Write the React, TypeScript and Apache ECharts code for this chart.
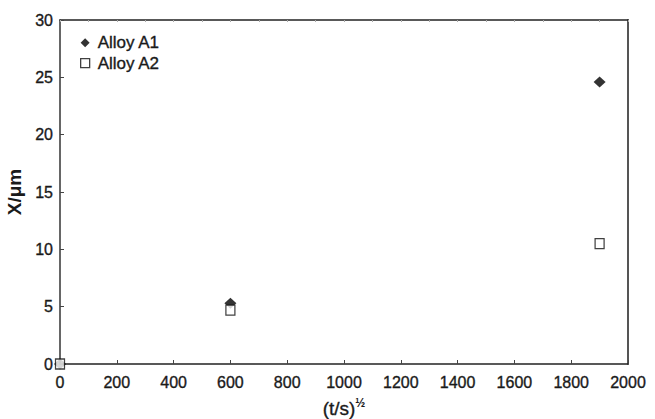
import React, { useEffect, useRef } from "react";
import * as echarts from "echarts";

const alloyA1: [number, number][] = [
  [0, 0],
  [600, 5.3],
  [1900, 24.6],
];
const alloyA2: [number, number][] = [
  [0, 0],
  [600, 4.7],
  [1900, 10.5],
];
const xTicks = { min: 0, max: 2000, interval: 200 };
const yTicks = { min: 0, max: 30, interval: 5 };

const FONT = "Liberation Sans, Arial, sans-serif";
const INK = "#1a1a1a";
const heavy = { textBorderColor: INK, textBorderWidth: 0.35 };

export default function App() {
  const ref = useRef<HTMLDivElement>(null);
  useEffect(() => {
    document.body.style.margin = "0";
    if (!ref.current) return;
    const chart = echarts.init(ref.current, null, { renderer: "svg" });
    chart.setOption({
      animation: false,
      backgroundColor: "#fff",
      grid: { left: 60, right: 27, top: 20, bottom: 55, containLabel: false, outerBoundsMode: "none" },
      legend: {
        left: 80,
        top: 34,
        padding: 0,
        orient: "vertical",
        itemGap: 3,
        itemWidth: 9,
        itemHeight: 9,
        textStyle: { fontFamily: FONT, fontSize: 17, color: INK, padding: [0, 0, 0, 3], ...heavy },
        data: [
          { name: "Alloy A1", icon: "diamond", itemStyle: { color: "#000" } },
          { name: "Alloy A2", icon: "rect", itemStyle: { color: "#fff", borderColor: "#111", borderWidth: 1.3 } },
        ],
      },
      xAxis: [
        {
          type: "value",
          min: xTicks.min,
          max: xTicks.max,
          interval: xTicks.interval,
          position: "bottom",
          name: "{b|(t/s)}{s|½}",
          nameLocation: "middle",
          nameGap: 33,
          nameTextStyle: {
            fontFamily: FONT,
            fontSize: 19,
            color: INK,
            rich: {
              b: { fontSize: 19, fontFamily: FONT, color: INK, ...heavy },
              s: { fontSize: 12, verticalAlign: "top", padding: [0, 0, 10, 0], fontFamily: FONT, fontWeight: "bold", color: INK },
            },
          },
          axisLine: { show: true, onZero: false, lineStyle: { color: "#222", width: 1.5 } },
          axisTick: { show: true, inside: true, length: 4, lineStyle: { color: "#444" } },
          axisLabel: {
            fontFamily: FONT,
            fontSize: 16,
            color: INK,
            ...heavy,
            margin: 10,
            formatter: (v: number) => String(v),
          },
          splitLine: { show: false },
        },
        {
          type: "value",
          min: xTicks.min,
          max: xTicks.max,
          interval: 100,
          position: "top",
          axisLine: { show: true, onZero: false, lineStyle: { color: "#222", width: 1.5 } },
          axisTick: { show: true, inside: true, length: 2, lineStyle: { color: "#aaa" } },
          axisLabel: { show: false },
          splitLine: { show: false },
        },
      ],
      yAxis: [
        {
          type: "value",
          min: yTicks.min,
          max: yTicks.max,
          interval: yTicks.interval,
          position: "left",
          name: "X/μm",
          nameLocation: "middle",
          nameGap: 36,
          nameTextStyle: { fontFamily: FONT, fontSize: 19, fontWeight: "bold", color: INK },
          axisLine: { show: true, onZero: false, lineStyle: { color: "#333", width: 1.5 } },
          axisTick: { show: true, inside: true, length: 4, lineStyle: { color: "#444" } },
          axisLabel: {
            fontFamily: FONT,
            fontSize: 16,
            color: INK,
            ...heavy,
            margin: 7,
            formatter: (v: number) => String(v),
          },
          splitLine: { show: false },
        },
        {
          type: "value",
          min: yTicks.min,
          max: yTicks.max,
          interval: yTicks.interval,
          position: "right",
          axisLine: { show: true, onZero: false, lineStyle: { color: "#555", width: 2 } },
          axisTick: { show: false },
          axisLabel: { show: false },
          splitLine: { show: false },
        },
      ],
      series: [
        {
          name: "Alloy A1",
          type: "scatter",
          symbol: "diamond",
          symbolSize: [12, 11],
          itemStyle: { color: "#000" },
          data: alloyA1,
          z: 2,
        },
        {
          name: "Alloy A2",
          type: "scatter",
          symbol: "rect",
          symbolSize: [9, 10],
          itemStyle: { color: "#fff", borderColor: "#111", borderWidth: 1.3 },
          data: alloyA2,
          z: 3,
        },
      ],
    });
    return () => chart.dispose();
  }, []);
  return <div ref={ref} style={{ width: 655, height: 419 }} />;
}
